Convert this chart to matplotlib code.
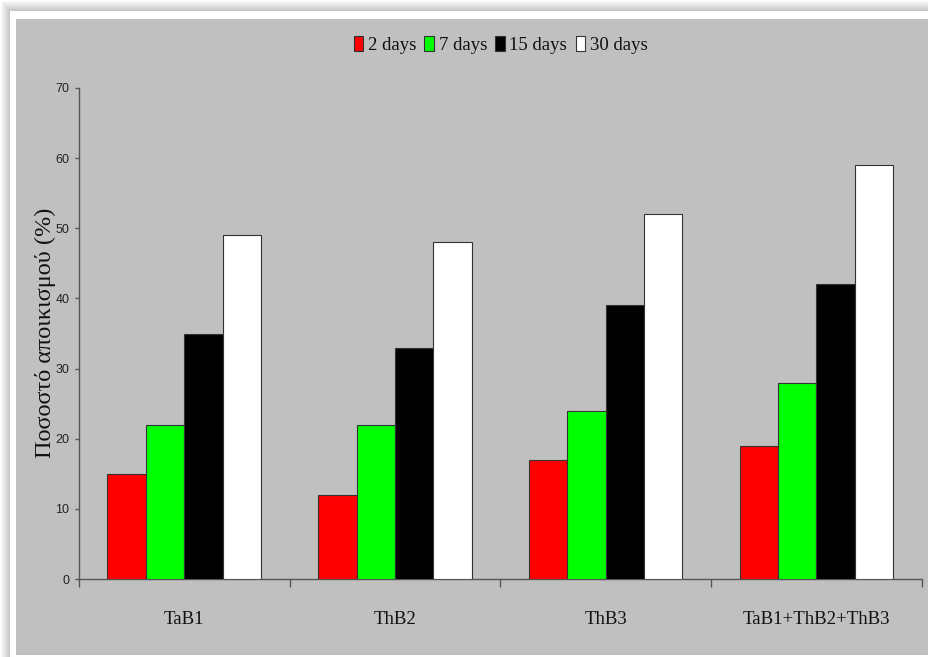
import numpy as np
import matplotlib
matplotlib.use("Agg")
import matplotlib.pyplot as plt
from matplotlib import font_manager
from matplotlib.patches import Rectangle

# ---- data ----
categories = ["TaB1", "ThB2", "ThB3", "TaB1+ThB2+ThB3"]
series_names = ["2 days", "7 days", "15 days", "30 days"]
days2 = [15, 12, 17, 19]
days7 = [22, 22, 24, 28]
days15 = [35, 33, 39, 42]
days30 = [49, 48, 52, 59]
yticks = [0, 10, 20, 30, 40, 50, 60, 70]
ylabel = "Ποσοστό αποικισμού (%)"

series_values = [days2, days7, days15, days30]
colors = ["#ff0000", "#00ff00", "#000000", "#ffffff"]

names = {f.name for f in font_manager.fontManager.ttflist}
def pick(*cands):
    for c in cands:
        if c in names:
            return c
    return "DejaVu Sans"
SERIF = pick("Liberation Serif", "DejaVu Serif")
NARROW = pick("Liberation Sans Narrow", "DejaVu Sans Condensed", "Liberation Sans")

W, H = 929, 657
fig = plt.figure(figsize=(W / 100, H / 100), dpi=100)
fig.patch.set_facecolor("white")

# ---- background frame with shadow ----
bg = fig.add_axes([0, 0, 1, 1], zorder=-10)
bg.axis("off")
xs = np.arange(W)[None, :]
ys = np.arange(H)[:, None]
fx = np.clip(xs / 10.0, 0, 1)
fy = np.clip(ys / 11.0, 0, 1)
shade = 1 - 0.24 * np.minimum(fx, fy)
img = np.dstack([shade, shade, shade])
bg.imshow(img, extent=[0, W, H, 0], aspect="auto", interpolation="bilinear")
bg.add_patch(Rectangle((10, 11), W - 10, H - 11, facecolor="white", edgecolor="none"))
bg.add_patch(Rectangle((16, 19), W - 16, 655 - 19, facecolor="#c0c0c0", edgecolor="none"))
bg.set_xlim(0, W)
bg.set_ylim(H, 0)

# ---- main axes ----
left, right = 79 / W, 922 / W
bottom, top = 1 - 579 / H, 1 - 88 / H
ax = fig.add_axes([left, bottom, right - left, top - bottom])
ax.set_facecolor("none")

n = len(categories)
bw = 0.182
off = 0.135
x0 = np.arange(n)
handles = []
for j, (vals, c, nm) in enumerate(zip(series_values, colors, series_names)):
    b = ax.bar(x0 + off + j * bw, vals, width=bw, align="edge", color=c,
               edgecolor="#333333", linewidth=0.8, label=nm, zorder=3)
    handles.append(b)

ax.set_xlim(0, n)
ax.set_ylim(0, 70)
ax.set_yticks(yticks)
ax.set_yticklabels([str(v) for v in yticks], fontfamily=NARROW, fontsize=9, color="#222222")
ax.set_xticks(np.arange(n + 1))
ax.set_xticklabels([])
ax.set_xticks(x0 + 0.5, minor=True)
ax.set_xticklabels(categories, minor=True, fontfamily=SERIF, fontsize=13.5, color="#111111")
ax.tick_params(axis="x", which="minor", length=0, pad=23)
ax.tick_params(axis="x", which="major", length=6, width=1.0, color="#555555", direction="out")
ax.tick_params(axis="y", length=3, width=1.0, color="#555555", direction="out", pad=4)

for s in ["top", "right"]:
    ax.spines[s].set_visible(False)
for s in ["left", "bottom"]:
    ax.spines[s].set_color("#555555")
    ax.spines[s].set_linewidth(1.0)

fig.text(45 / W, 1 - 333 / H, ylabel, rotation=90, ha="center", va="center",
         fontfamily=SERIF, fontsize=17.5, color="#111111")

leg = fig.legend(handles=handles, labels=series_names, loc="center",
                 bbox_to_anchor=(500.5 / W, 1 - 45 / H), bbox_transform=fig.transFigure,
                 ncol=4, frameon=False, prop={"family": SERIF, "size": 13.5},
                 handlelength=0.5, handleheight=0.8, handletextpad=0.25,
                 columnspacing=0.45, borderpad=0.0)
for t in leg.get_texts():
    t.set_color("#111111")

fig.savefig("out.png", dpi=100, facecolor=fig.get_facecolor())
